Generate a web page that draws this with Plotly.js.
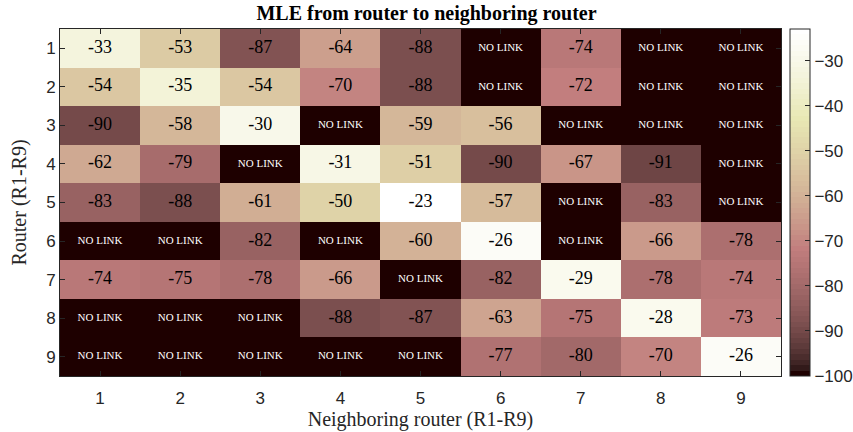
<!DOCTYPE html>
<html>
<head>
<meta charset="utf-8">
<script src="https://cdn.plot.ly/plotly-3.0.1.min.js"></script>
<style>html,body{margin:0;padding:0;background:#fff;}#chart{width:853px;height:432px;}</style>
</head>
<body>
<div id="chart"></div>
<script>
// Routers (rows) and neighboring routers (columns)
const routers = [1, 2, 3, 4, 5, 6, 7, 8, 9];
const neighbors = [1, 2, 3, 4, 5, 6, 7, 8, 9];
// MLE values; null = NO LINK
const mle = [
  [-33, -53, -87, -64, -88, null, -74, null, null],
  [-54, -35, -54, -70, -88, null, -72, null, null],
  [-90, -58, -30, null, -59, -56, null, null, null],
  [-62, -79, null, -31, -51, -90, -67, -91, null],
  [-83, -88, -61, -50, -23, -57, null, -83, null],
  [null, null, -82, null, -60, -26, null, -66, -78],
  [-74, -75, -78, -66, null, -82, -29, -78, -74],
  [null, null, null, -88, -87, -63, -75, -28, -73],
  [null, null, null, null, null, -77, -80, -70, -26]
];
const noLinkValue = -100;
const noLinkLabel = 'NO LINK';
const cbTicks = [-30, -40, -50, -60, -70, -80, -90, -100];

// MATLAB "pink" colormap (64 entries), stepped
function pinkMap(m) {
  const n = Math.floor(3 / 8 * m);
  const out = [];
  for (let i = 0; i < m; i++) {
    const gray = i / (m - 1);
    const hr = i < n ? (i + 1) / n : 1;
    const hg = i < n ? 0 : (i < 2 * n ? (i - n + 1) / n : 1);
    const hb = i < 2 * n ? 0 : (i - 2 * n + 1) / (m - 2 * n);
    const f = v => Math.round(255 * Math.sqrt((2 * gray + v) / 3));
    out.push('rgb(' + f(hr) + ',' + f(hg) + ',' + f(hb) + ')');
  }
  return out;
}
const cmap = pinkMap(64);
const colorscale = [];
cmap.forEach((c, i) => {
  colorscale.push([i / 64, c]);
  colorscale.push([(i + 1) / 64, c]);
});

const z = mle.map(r => r.map(v => v === null ? noLinkValue : v));

// text overlay
const tx = [], ty = [], tt = [], tc = [], ts = [];
mle.forEach((row, i) => row.forEach((v, j) => {
  tx.push(neighbors[j]); ty.push(routers[i]);
  if (v === null) { tt.push(noLinkLabel); tc.push('#ffffff'); ts.push(11); }
  else { tt.push(String(v)); tc.push('#000000'); ts.push(18); }
}));

const data = [
  {
    type: 'heatmap', x: neighbors, y: routers, z: z,
    zmin: -100, zmax: -23, colorscale: colorscale, hoverinfo: 'skip',
    colorbar: {
      x: 1.013, xanchor: 'left', y: 0.5, yanchor: 'middle', len: 1, lenmode: 'fraction',
      thickness: 20, outlinewidth: 1, outlinecolor: '#262626',
      tickvals: cbTicks, ticks: 'inside', ticklen: 5, tickcolor: '#262626',
      tickfont: {family: 'Liberation Sans, Arial, sans-serif', size: 17, color: '#262626'},
      xpad: 0, ypad: 0
    }
  },
  {
    type: 'scatter', mode: 'text', x: tx, y: ty, text: tt,
    textfont: {family: 'Liberation Serif, Times New Roman, serif', size: ts, color: tc},
    hoverinfo: 'skip', showlegend: false
  }
];

const layout = {
  width: 853, height: 432,
  margin: {l: 60, r: 72, t: 28.5, b: 55.5, autoexpand: false},
  paper_bgcolor: '#ffffff', plot_bgcolor: '#ffffff',
  title: {text: '<b>MLE from router to neighboring router</b>', x: 0.5, xanchor: 'center', y: 0.985, yanchor: 'top',
    font: {family: 'Liberation Serif, Times New Roman, serif', size: 20, color: '#000'}},
  xaxis: {
    range: [0.5, 9.5], tickvals: neighbors, ticks: 'inside', ticklen: 5, tickcolor: '#262626',
    showline: true, linecolor: '#262626', linewidth: 1, mirror: 'ticks', showgrid: false, zeroline: false,
    ticklabelstandoff: 7,
    tickfont: {family: 'Liberation Sans, Arial, sans-serif', size: 17, color: '#262626'},
    title: {text: 'Neighboring router (R1-R9)', standoff: 4,
      font: {family: 'Liberation Serif, Times New Roman, serif', size: 20, color: '#262626'}}
  },
  yaxis: {
    range: [9.5, 0.5], tickvals: routers, ticks: 'inside', ticklen: 5, tickcolor: '#262626',
    showline: true, linecolor: '#262626', linewidth: 1, mirror: 'ticks', showgrid: false, zeroline: false,
    tickfont: {family: 'Liberation Sans, Arial, sans-serif', size: 17, color: '#262626'},
    title: {text: 'Router (R1-R9)', standoff: 14,
      font: {family: 'Liberation Serif, Times New Roman, serif', size: 20, color: '#262626'}}
  },
  showlegend: false
};

Plotly.newPlot('chart', data, layout, {displayModeBar: false, staticPlot: true});
</script>
</body>
</html>
